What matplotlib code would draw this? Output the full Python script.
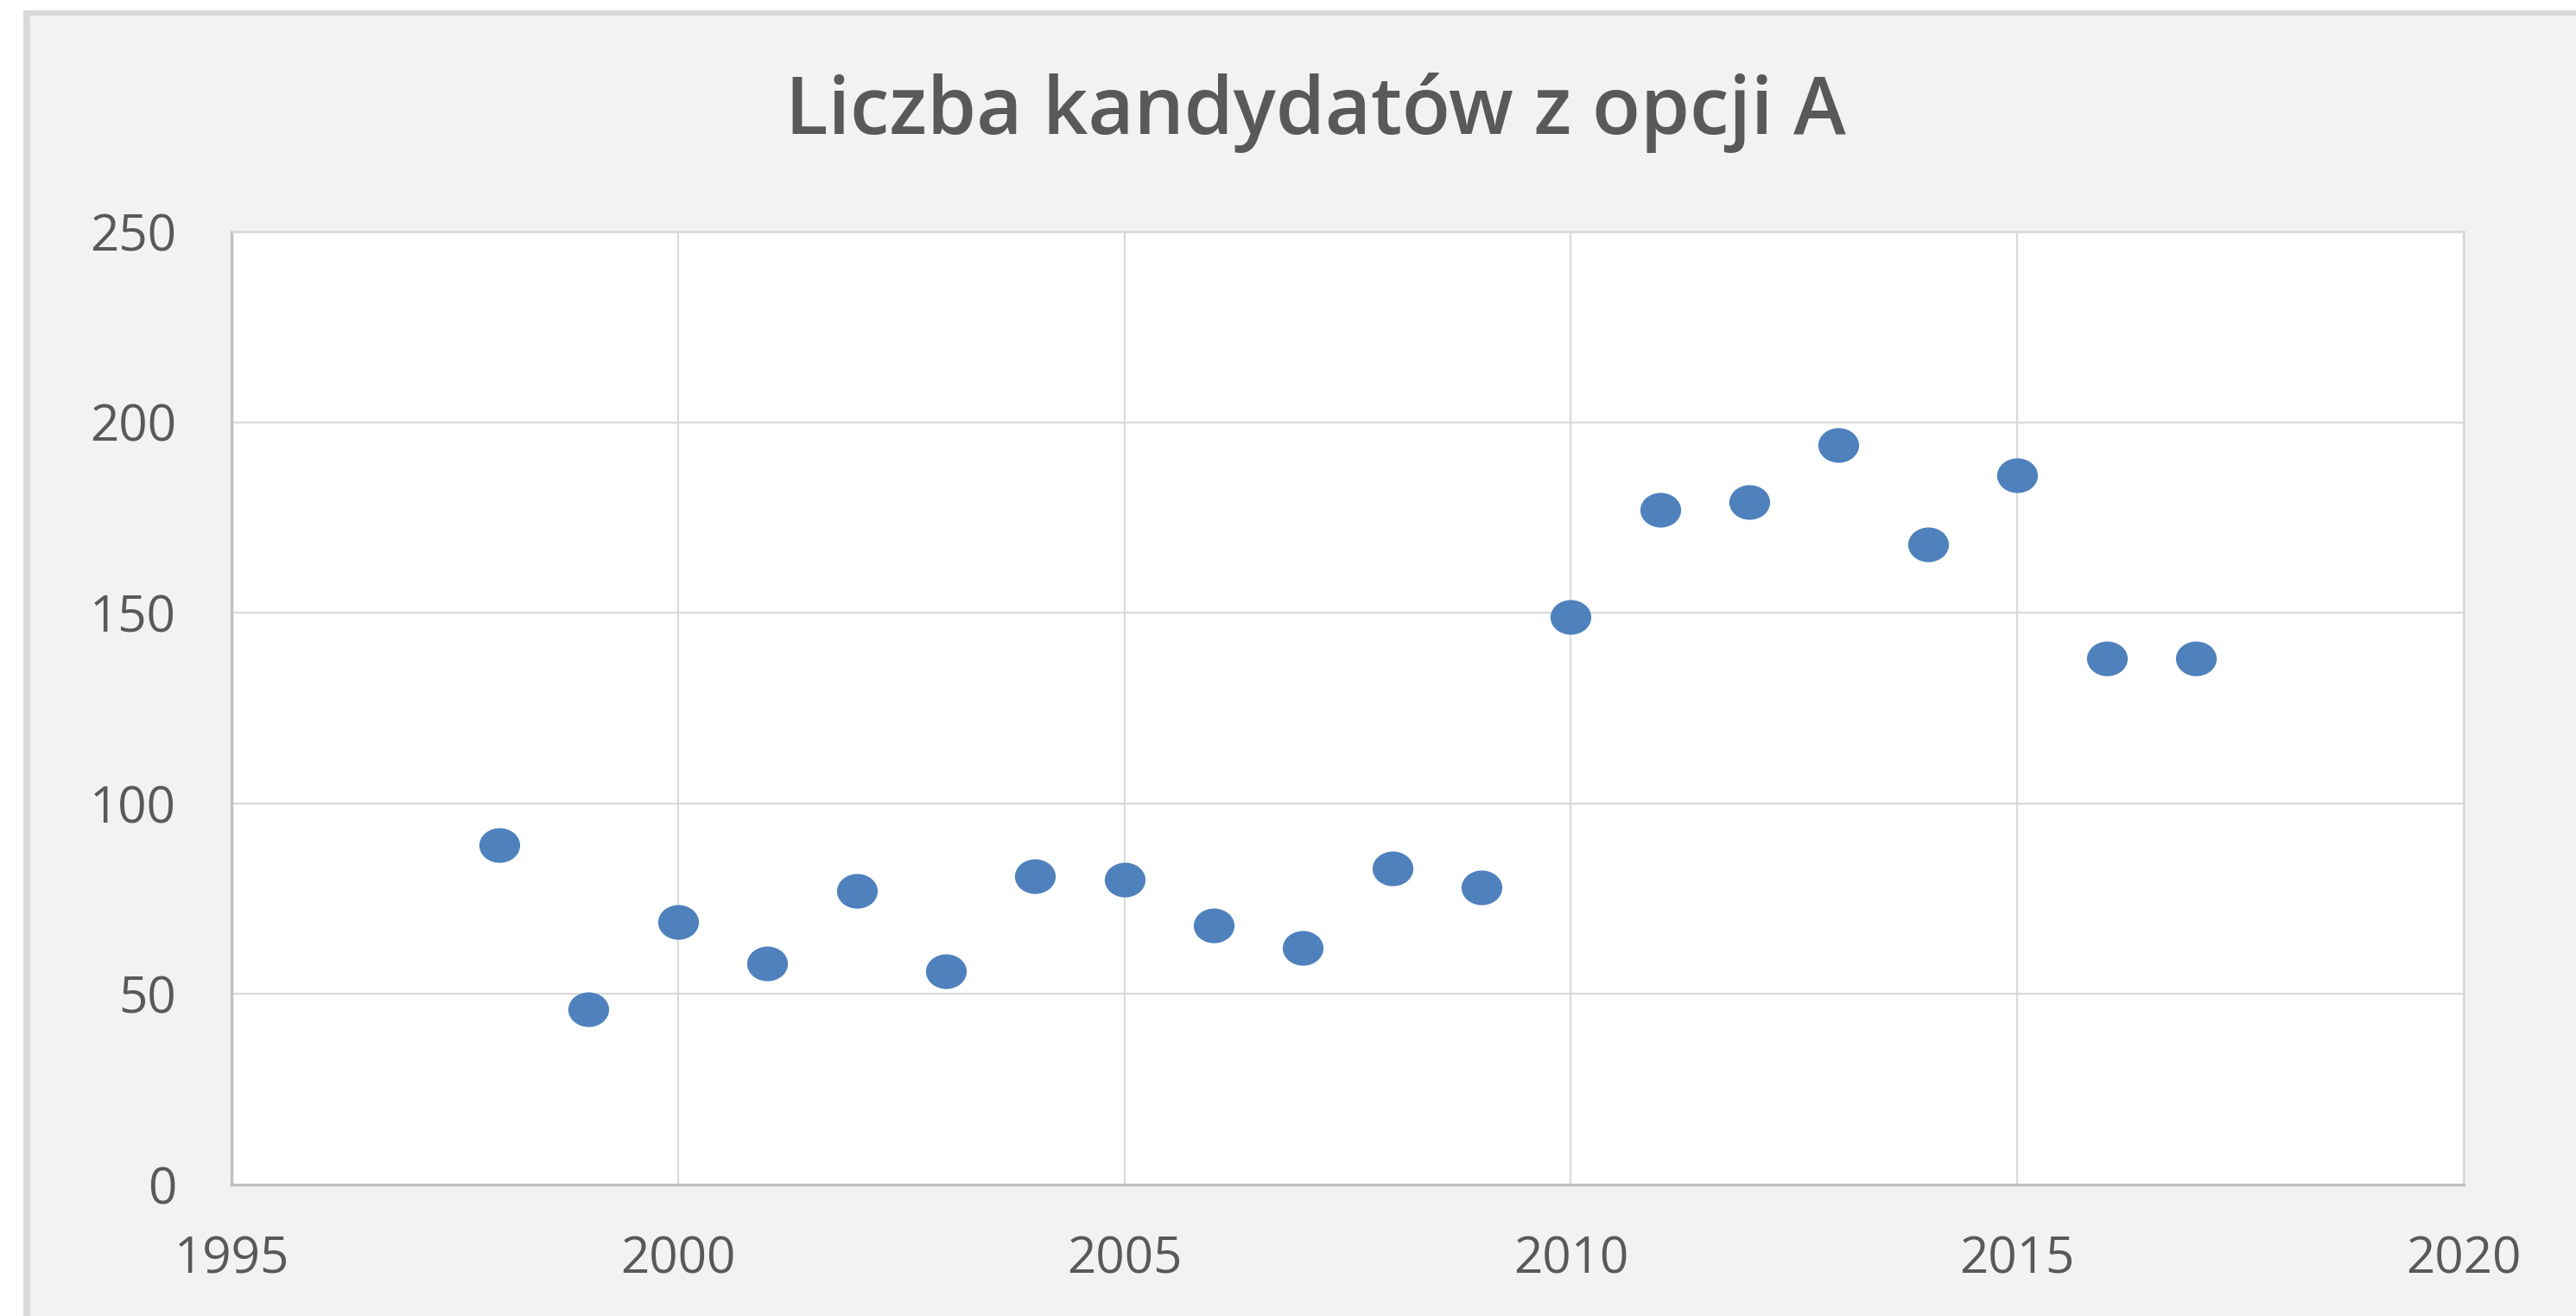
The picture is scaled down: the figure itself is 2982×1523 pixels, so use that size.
import numpy as np
import matplotlib
matplotlib.use('Agg')
import matplotlib.pyplot as plt
from matplotlib.path import Path
from matplotlib.patches import Rectangle

# dane
lata = [1998, 1999, 2000, 2001, 2002, 2003, 2004, 2005, 2006, 2007,
        2008, 2009, 2010, 2011, 2012, 2013, 2014, 2015, 2016, 2017]
kandydaci = [89, 46, 69, 58, 77, 56, 81, 80, 68, 62,
             83, 78, 149, 177, 179, 194, 168, 186, 138, 138]
x_ticks = [1995, 2000, 2005, 2010, 2015, 2020]
y_ticks = [0, 50, 100, 150, 200, 250]
tytul = 'Liczba kandydatów z opcji A'

W, H = 2982, 1523
fig = plt.figure(figsize=(W / 100, H / 100), dpi=100)
fig.patch.set_facecolor('white')

# tlo wykresu w stylu Excela (ramka z lewej i u gory)
fig.patches.append(Rectangle((27 / W, 0), 1, 1 - 12 / H, transform=fig.transFigure,
                             facecolor='#d9d9d9', edgecolor='none', zorder=-10))
fig.patches.append(Rectangle((35 / W, 0), 1, 1 - 18 / H, transform=fig.transFigure,
                             facecolor='#f2f2f2', edgecolor='none', zorder=-9))

ax = fig.add_axes([268 / W, 1 - 1371 / H, (2852 - 268) / W, (1371 - 268) / H])
ax.set_facecolor('white')

# lekko spłaszczona elipsa jako marker
circ = Path.unit_circle()
elipsa = Path(circ.vertices * np.array([1.0, 0.85]), circ.codes)

ax.plot(lata, kandydaci, linestyle='none', marker=elipsa, markersize=34,
        markerfacecolor='#4f81bd', markeredgecolor='none', zorder=3)

ax.set_xlim(1995, 2020)
ax.set_ylim(0, 250)
ax.set_xticks(x_ticks)
ax.set_yticks(y_ticks)
ax.grid(True, color='#d9d9d9', linewidth=1.5, zorder=0)
ax.set_axisbelow(True)

ax.tick_params(axis='both', length=0, labelsize=42, labelcolor='#595959')
ax.tick_params(axis='y', pad=46)
ax.tick_params(axis='x', pad=42)
for lab in ax.get_xticklabels() + ax.get_yticklabels():
    lab.set_family('Open Sans')

for s in ['left', 'bottom']:
    ax.spines[s].set_color('#bfbfbf')
    ax.spines[s].set_linewidth(2.4)
for s in ['top', 'right']:
    ax.spines[s].set_color('#d9d9d9')
    ax.spines[s].set_linewidth(1.8)

fig.text(1523 / W, 1 - 155 / H, tytul, ha='center', va='baseline',
         fontsize=66, fontweight='semibold', color='#595959', family='Open Sans')

fig.savefig('out.png', dpi=100, facecolor=fig.get_facecolor())
